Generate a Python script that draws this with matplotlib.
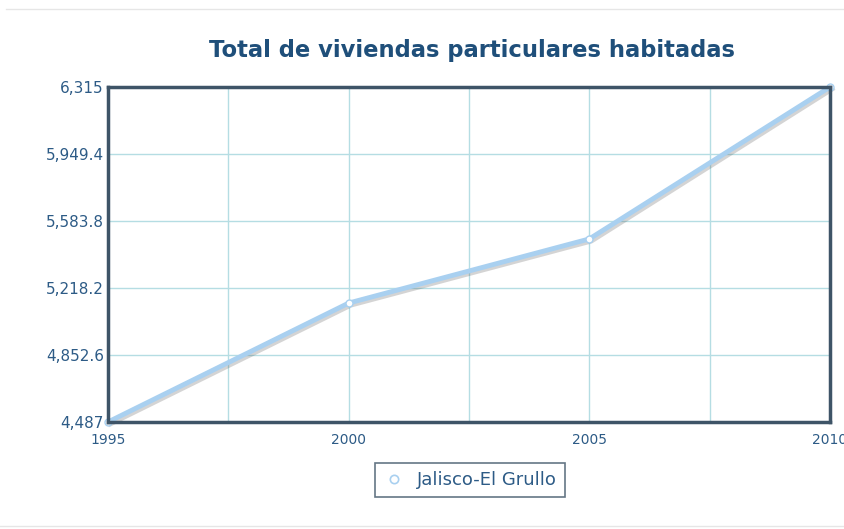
import matplotlib
matplotlib.use("Agg")
import matplotlib.pyplot as plt
import matplotlib.patheffects as pe
from matplotlib.lines import Line2D

# data
years = [1995, 2000, 2005, 2010]
viviendas = [4487, 5136, 5486, 6315]
series_name = "Jalisco-El Grullo"
y_ticks = [4487, 4852.6, 5218.2, 5583.8, 5949.4, 6315]
y_labels = ["4,487", "4,852.6", "5,218.2", "5,583.8", "5,949.4", "6,315"]
x_ticks = [1995, 2000, 2005, 2010]
x_grid = [1997.5, 2002.5, 2007.5]

text_col = "#2d5b86"
frame_col = "#3e5467"
grid_col = "#b5dde3"
line_col = "#a9d0f0"

plt.rcParams['font.family'] = ['DejaVu Sans']

fig = plt.figure(figsize=(8.44, 5.29), dpi=100)
ax = fig.add_axes([108 / 844, 1 - 422 / 529, 722 / 844, 335 / 529])

ax.set_xlim(1995, 2010)
ax.set_ylim(4487, 6315)

# grid
for gx in x_ticks + x_grid:
    ax.axvline(gx, color=grid_col, lw=1, zorder=1)
for gy in y_ticks:
    ax.axhline(gy, color=grid_col, lw=1, zorder=1)

ax.plot(years, viviendas, color=line_col, lw=3.5, zorder=3, clip_on=False,
        path_effects=[pe.SimpleLineShadow(offset=(1.5, -1.5), shadow_color="#555555", alpha=0.25),
                      pe.Normal()])
ax.plot(years, viviendas, linestyle="none", marker="o", ms=5, mfc="white",
        mec=line_col, mew=1, zorder=4, clip_on=False)

ax.set_xticks(x_ticks)
ax.set_xticklabels([str(y) for y in x_ticks])
ax.set_yticks(y_ticks)
ax.set_yticklabels(y_labels)
ax.tick_params(axis="both", length=0, colors=text_col)
ax.tick_params(axis="x", pad=8, labelsize=10)
ax.tick_params(axis="y", pad=3, labelsize=11)

for s in ax.spines.values():
    s.set_color(frame_col)
    s.set_linewidth(2.5)
    s.set_zorder(5)

fig.text(472 / 844, 1 - 51 / 529, "Total de viviendas particulares habitadas",
         ha="center", va="center", fontsize=16.3, fontweight="bold", color="#1f4f7a")

# legend
handle = Line2D([], [], linestyle="none", marker="o", ms=6, mfc="white",
                mec=line_col, mew=1.2)
leg = fig.legend([handle], [series_name], loc="center",
                 bbox_to_anchor=(470 / 844, 1 - 480 / 529), fontsize=13,
                 frameon=True, fancybox=False, handletextpad=0.7,
                 borderpad=0.45, handlelength=1.2, labelcolor=text_col)
leg.get_frame().set_edgecolor(frame_col)
leg.get_frame().set_linewidth(1.2)

# separator lines
fig.add_artist(Line2D([6 / 844, 1], [1 - 9 / 529, 1 - 9 / 529], color="#e6e6e6", lw=1))
fig.add_artist(Line2D([0, 1], [1 - 526 / 529, 1 - 526 / 529], color="#e6e6e6", lw=1))

fig.savefig("out.png", dpi=100)
